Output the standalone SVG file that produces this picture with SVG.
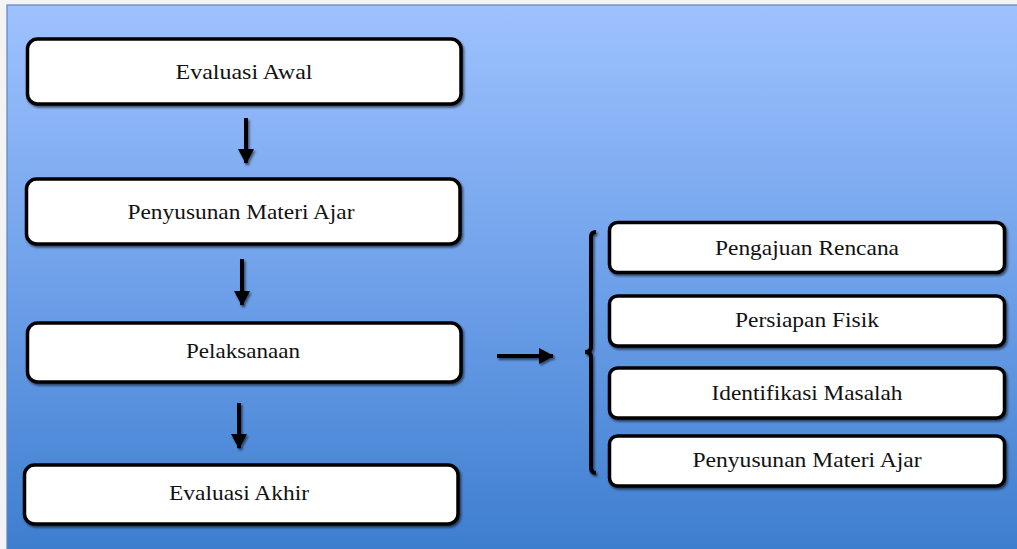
<svg xmlns="http://www.w3.org/2000/svg" width="1017" height="549" viewBox="0 0 1017 549">
<defs>
<linearGradient id="bg" x1="0" y1="0" x2="0" y2="1">
<stop offset="0" stop-color="#9EC2FE"/>
<stop offset="0.5" stop-color="#6FA1EA"/>
<stop offset="1" stop-color="#3E7ECF"/>
</linearGradient>
<filter id="sh" x="-10%" y="-20%" width="120%" height="150%">
<feDropShadow dx="1.5" dy="2" stdDeviation="1.2" flood-color="#000" flood-opacity="0.55"/>
</filter>
<marker id="ah" markerUnits="userSpaceOnUse" markerWidth="18" markerHeight="18" refX="14" refY="9" orient="auto">
<path d="M0,1 L15,9 L0,17 Z" fill="#000"/>
</marker>
<style>
.box{fill:#fff;stroke:#000;stroke-width:3.5;filter:url(#sh)}
.lbl{font-family:"Liberation Serif","DejaVu Serif",serif;font-size:21px;fill:#111;text-anchor:middle}
.arr{stroke:#000;stroke-width:4;fill:none;marker-end:url(#ah)}
</style>
</defs>
<rect x="0" y="0" width="1017" height="549" fill="#F3F3F3"/>
<rect x="7" y="5" width="1011" height="545" fill="url(#bg)" stroke="#5B86C2" stroke-width="1.2"/>

<g id="evaluasi-awal"><rect class="box" x="27.5" y="39" width="433.5" height="65" rx="10"/><text class="lbl" x="244" y="79" textLength="137" lengthAdjust="spacingAndGlyphs">Evaluasi Awal</text></g>
<g id="penyusunan-materi"><rect class="box" x="26.5" y="179" width="433.5" height="65" rx="10"/><text class="lbl" x="241" y="219" textLength="227" lengthAdjust="spacingAndGlyphs">Penyusunan Materi Ajar</text></g>
<g id="pelaksanaan"><rect class="box" x="27.5" y="323" width="433.5" height="59" rx="10"/><text class="lbl" x="243" y="358" textLength="114" lengthAdjust="spacingAndGlyphs">Pelaksanaan</text></g>
<g id="evaluasi-akhir"><rect class="box" x="24.5" y="465" width="433.5" height="59" rx="10"/><text class="lbl" x="239" y="500" textLength="140" lengthAdjust="spacingAndGlyphs">Evaluasi Akhir</text></g>

<g id="pengajuan-rencana"><rect class="box" x="609.5" y="222.5" width="395" height="50" rx="8"/><text class="lbl" x="807" y="255" textLength="184" lengthAdjust="spacingAndGlyphs">Pengajuan Rencana</text></g>
<g id="persiapan-fisik"><rect class="box" x="609.5" y="296" width="395" height="50" rx="8"/><text class="lbl" x="807" y="327" textLength="144" lengthAdjust="spacingAndGlyphs">Persiapan Fisik</text></g>
<g id="identifikasi-masalah"><rect class="box" x="609.5" y="368" width="395" height="50" rx="8"/><text class="lbl" x="807" y="400" textLength="191" lengthAdjust="spacingAndGlyphs">Identifikasi Masalah</text></g>
<g id="penyusunan-materi-2"><rect class="box" x="609.5" y="436" width="395" height="50" rx="8"/><text class="lbl" x="807" y="467" textLength="229" lengthAdjust="spacingAndGlyphs">Penyusunan Materi Ajar</text></g>

<g id="connectors" filter="url(#sh)">
<line class="arr" x1="246" y1="118" x2="246" y2="163"/>
<line class="arr" x1="242" y1="259" x2="242" y2="305"/>
<line class="arr" x1="239" y1="403" x2="239" y2="448"/>
<line class="arr" x1="497" y1="356" x2="553" y2="356"/>
<path d="M596,232 Q591,232 591,237 L591,347 Q591,352 585,352 Q591,352 591,357 L591,468 Q591,473 596,473" fill="none" stroke="#000" stroke-width="4"/>
</g>
</svg>
